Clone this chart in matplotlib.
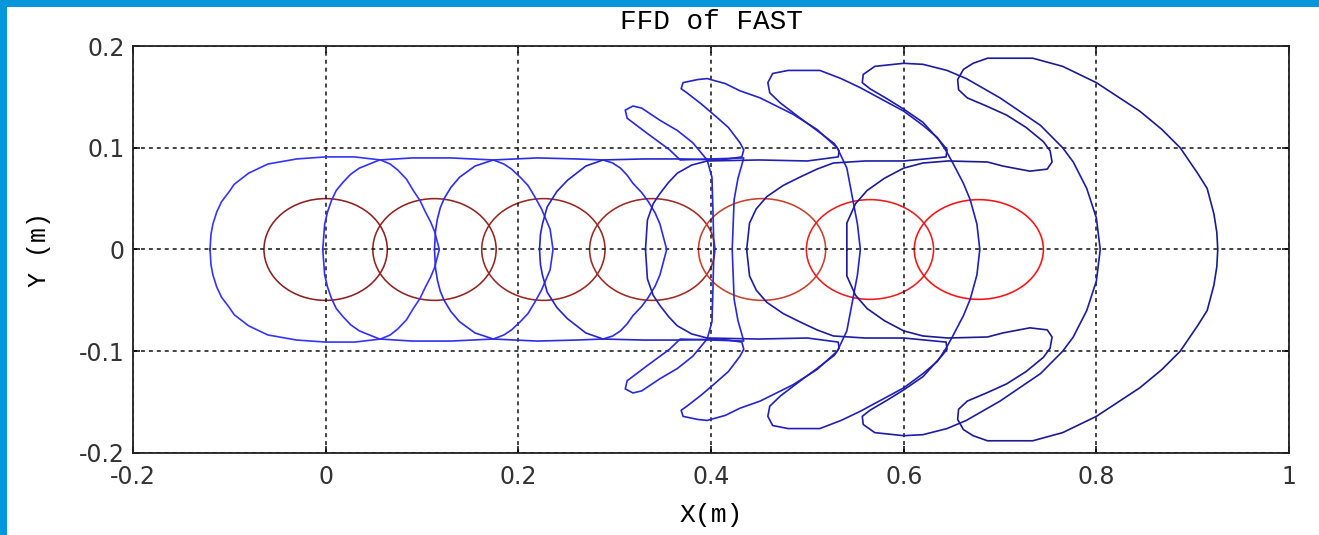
import matplotlib.pyplot as plt
from matplotlib.patches import Ellipse, Rectangle

plt.rcParams['axes.unicode_minus'] = False

# red ellipses (foot traces): centre x, half width, half height
ell_x = [0.0, 0.113, 0.226, 0.339, 0.453, 0.565, 0.678]
ell_a = [0.064, 0.064, 0.064, 0.065, 0.066, 0.066, 0.067]
ell_b = [0.050, 0.050, 0.050, 0.050, 0.050, 0.049, 0.049]
red_cols = ['#8e2020', '#922420', '#982820', '#a02a22', '#c8402e', '#ee1c1c', '#ff1010']

# blue regions, upper halves (the figure is symmetric in y)
shape1 = [(-0.12, 0), (-0.119, 0.015), (-0.117, 0.025), (-0.113, 0.037), (-0.108, 0.047),
          (-0.1, 0.057), (-0.095, 0.064), (-0.08, 0.075), (-0.06, 0.084), (-0.03, 0.089),
          (0.0, 0.091), (0.03, 0.091), (0.057, 0.088), (0.067, 0.084), (0.075, 0.078),
          (0.084, 0.069), (0.091, 0.058), (0.098, 0.048), (0.103, 0.038), (0.109, 0.027),
          (0.113, 0.018), (0.118, 0)]
shape2 = [(-0.003, 0), (-0.001, 0.025), (0.002, 0.037), (0.006, 0.048), (0.011, 0.058),
          (0.018, 0.066), (0.026, 0.074), (0.035, 0.08), (0.056, 0.088), (0.09, 0.09),
          (0.13, 0.09), (0.174, 0.088), (0.185, 0.084), (0.193, 0.079), (0.202, 0.071),
          (0.21, 0.063), (0.217, 0.052), (0.224, 0.04), (0.233, 0.02), (0.236, 0)]
shape3 = [(0.113, 0), (0.114, 0.018), (0.116, 0.03), (0.119, 0.041), (0.123, 0.05),
          (0.13, 0.061), (0.139, 0.071), (0.155, 0.082), (0.174, 0.088), (0.22, 0.09),
          (0.26, 0.089), (0.288, 0.088), (0.298, 0.085), (0.306, 0.08), (0.313, 0.073),
          (0.319, 0.065), (0.328, 0.056), (0.335, 0.047), (0.342, 0.036), (0.347, 0.025),
          (0.354, 0)]
hookA = [(0.403, 0), (0.402, 0.039), (0.401, 0.071), (0.396, 0.088), (0.381, 0.105),
         (0.365, 0.117), (0.347, 0.127), (0.328, 0.139), (0.319, 0.141), (0.311, 0.137),
         (0.313, 0.129), (0.334, 0.114), (0.357, 0.098), (0.368, 0.088), (0.40, 0.089),
         (0.434, 0.09), (0.428, 0.07), (0.424, 0.049), (0.422, 0)]
shape4 = [(0.222, 0), (0.223, 0.015), (0.225, 0.025), (0.23, 0.042), (0.24, 0.057),
          (0.251, 0.068), (0.27, 0.082), (0.288, 0.088), (0.33, 0.089), (0.37, 0.089),
          (0.41, 0.088), (0.432, 0.091), (0.434, 0.098), (0.43, 0.105), (0.418, 0.12),
          (0.406, 0.13), (0.39, 0.143), (0.375, 0.154), (0.369, 0.158), (0.371, 0.164),
          (0.386, 0.167), (0.396, 0.168), (0.415, 0.163), (0.43, 0.156), (0.451, 0.149),
          (0.485, 0.133), (0.51, 0.118), (0.531, 0.10), (0.541, 0.08), (0.547, 0.05),
          (0.552, 0.025), (0.555, 0)]
shape5 = [(0.332, 0), (0.334, 0.029), (0.34, 0.045), (0.347, 0.055), (0.356, 0.066),
          (0.365, 0.075), (0.38, 0.083), (0.396, 0.087), (0.45, 0.088), (0.5, 0.087),
          (0.532, 0.091), (0.533, 0.097), (0.528, 0.104), (0.51, 0.117), (0.49, 0.131),
          (0.472, 0.144), (0.461, 0.154), (0.459, 0.164), (0.464, 0.173), (0.48, 0.176),
          (0.513, 0.176), (0.535, 0.168), (0.555, 0.159), (0.6, 0.136), (0.62, 0.122),
          (0.635, 0.11), (0.644, 0.097), (0.651, 0.085), (0.662, 0.065), (0.669, 0.049),
          (0.676, 0.025), (0.679, 0)]
shape6 = [(0.437, 0), (0.44, 0.026), (0.447, 0.04), (0.458, 0.052), (0.475, 0.063),
          (0.492, 0.071), (0.51, 0.079), (0.527, 0.085), (0.56, 0.087), (0.6, 0.087),
          (0.644, 0.091), (0.645, 0.098), (0.64, 0.104), (0.62, 0.125), (0.6, 0.138),
          (0.583, 0.148), (0.565, 0.158), (0.557, 0.164), (0.558, 0.172), (0.57, 0.18),
          (0.6, 0.183), (0.62, 0.182), (0.645, 0.176), (0.665, 0.168), (0.70, 0.149),
          (0.742, 0.122), (0.765, 0.1), (0.776, 0.086), (0.79, 0.06), (0.80, 0.031),
          (0.804, 0)]
shape7 = [(0.541, 0), (0.541, 0.026), (0.55, 0.045), (0.562, 0.058), (0.58, 0.07),
          (0.6, 0.08), (0.62, 0.085), (0.646, 0.087), (0.687, 0.086), (0.703, 0.082),
          (0.731, 0.077), (0.749, 0.079), (0.754, 0.086), (0.752, 0.097), (0.745, 0.106),
          (0.727, 0.12), (0.707, 0.132), (0.686, 0.141), (0.666, 0.149), (0.657, 0.157),
          (0.656, 0.167), (0.662, 0.177), (0.672, 0.183), (0.687, 0.188), (0.734, 0.188),
          (0.765, 0.18), (0.80, 0.164), (0.845, 0.136), (0.868, 0.118), (0.887, 0.10),
          (0.905, 0.075), (0.915, 0.06), (0.922, 0.035), (0.925, 0.017), (0.926, 0)]
shapes = [shape1, shape2, shape3, hookA, shape4, shape5, shape6, shape7]
blue_cols = ['#3434ff', '#3030f6', '#2c2ce8', '#2828dc', '#2424cc', '#2020b4', '#1c1ca4', '#1a1a92']

xticks = [-0.2, 0, 0.2, 0.4, 0.6, 0.8, 1]
xtick_labels = ['-0.2', '0', '0.2', '0.4', '0.6', '0.8', '1']
yticks = [-0.2, -0.1, 0, 0.1, 0.2]
ytick_labels = ['-0.2', '-0.1', '0', '0.1', '0.2']

fig = plt.figure(figsize=(13.19, 5.35), dpi=100)
ax = fig.add_axes([0.1008, 0.1533, 0.8765, 0.7607])

for pts, col in zip(shapes, blue_cols):
    top = pts
    bottom = [(x, -y) for x, y in reversed(pts)]
    loop = top + bottom + [top[0]]
    ax.plot([p[0] for p in loop], [p[1] for p in loop], color=col, lw=1.2)

for cx, a, b, col in zip(ell_x, ell_a, ell_b, red_cols):
    ax.add_patch(Ellipse((cx, 0), 2 * a, 2 * b, fill=False, edgecolor=col, lw=1.15))

ax.set_xlim(-0.2, 1)
ax.set_ylim(-0.2, 0.2)
ax.set_xticks(xticks)
ax.set_xticklabels(xtick_labels)
ax.set_yticks(yticks)
ax.set_yticklabels(ytick_labels)
ax.grid(True, color='#111111', linestyle=(0, (2.6, 2.6)), lw=1.1)
ax.tick_params(direction='in', length=5, width=1.1, top=True, right=True,
               labelsize=17, labelcolor='#333333')
ax.tick_params(axis='x', pad=9)
ax.tick_params(axis='y', pad=6)
for sp in ax.spines.values():
    sp.set_linewidth(1.3)
    sp.set_color('#222222')

ax.set_title('FFD of FAST', family='Liberation Mono', fontsize=20, pad=12)
ax.set_xlabel('X(m)', family='Liberation Mono', fontsize=19, labelpad=10)
ax.set_ylabel('Y (m)', family='Liberation Mono', fontsize=18, labelpad=20)

# blue frame at top and left of the slide
fig.add_artist(Rectangle((0, 1 - 7 / 535), 1, 7 / 535, transform=fig.transFigure,
                         color='#0896da', lw=0))
fig.add_artist(Rectangle((0, 0), 7 / 1319, 1, transform=fig.transFigure,
                         color='#0896da', lw=0))

fig.savefig('out.png', dpi=100)
